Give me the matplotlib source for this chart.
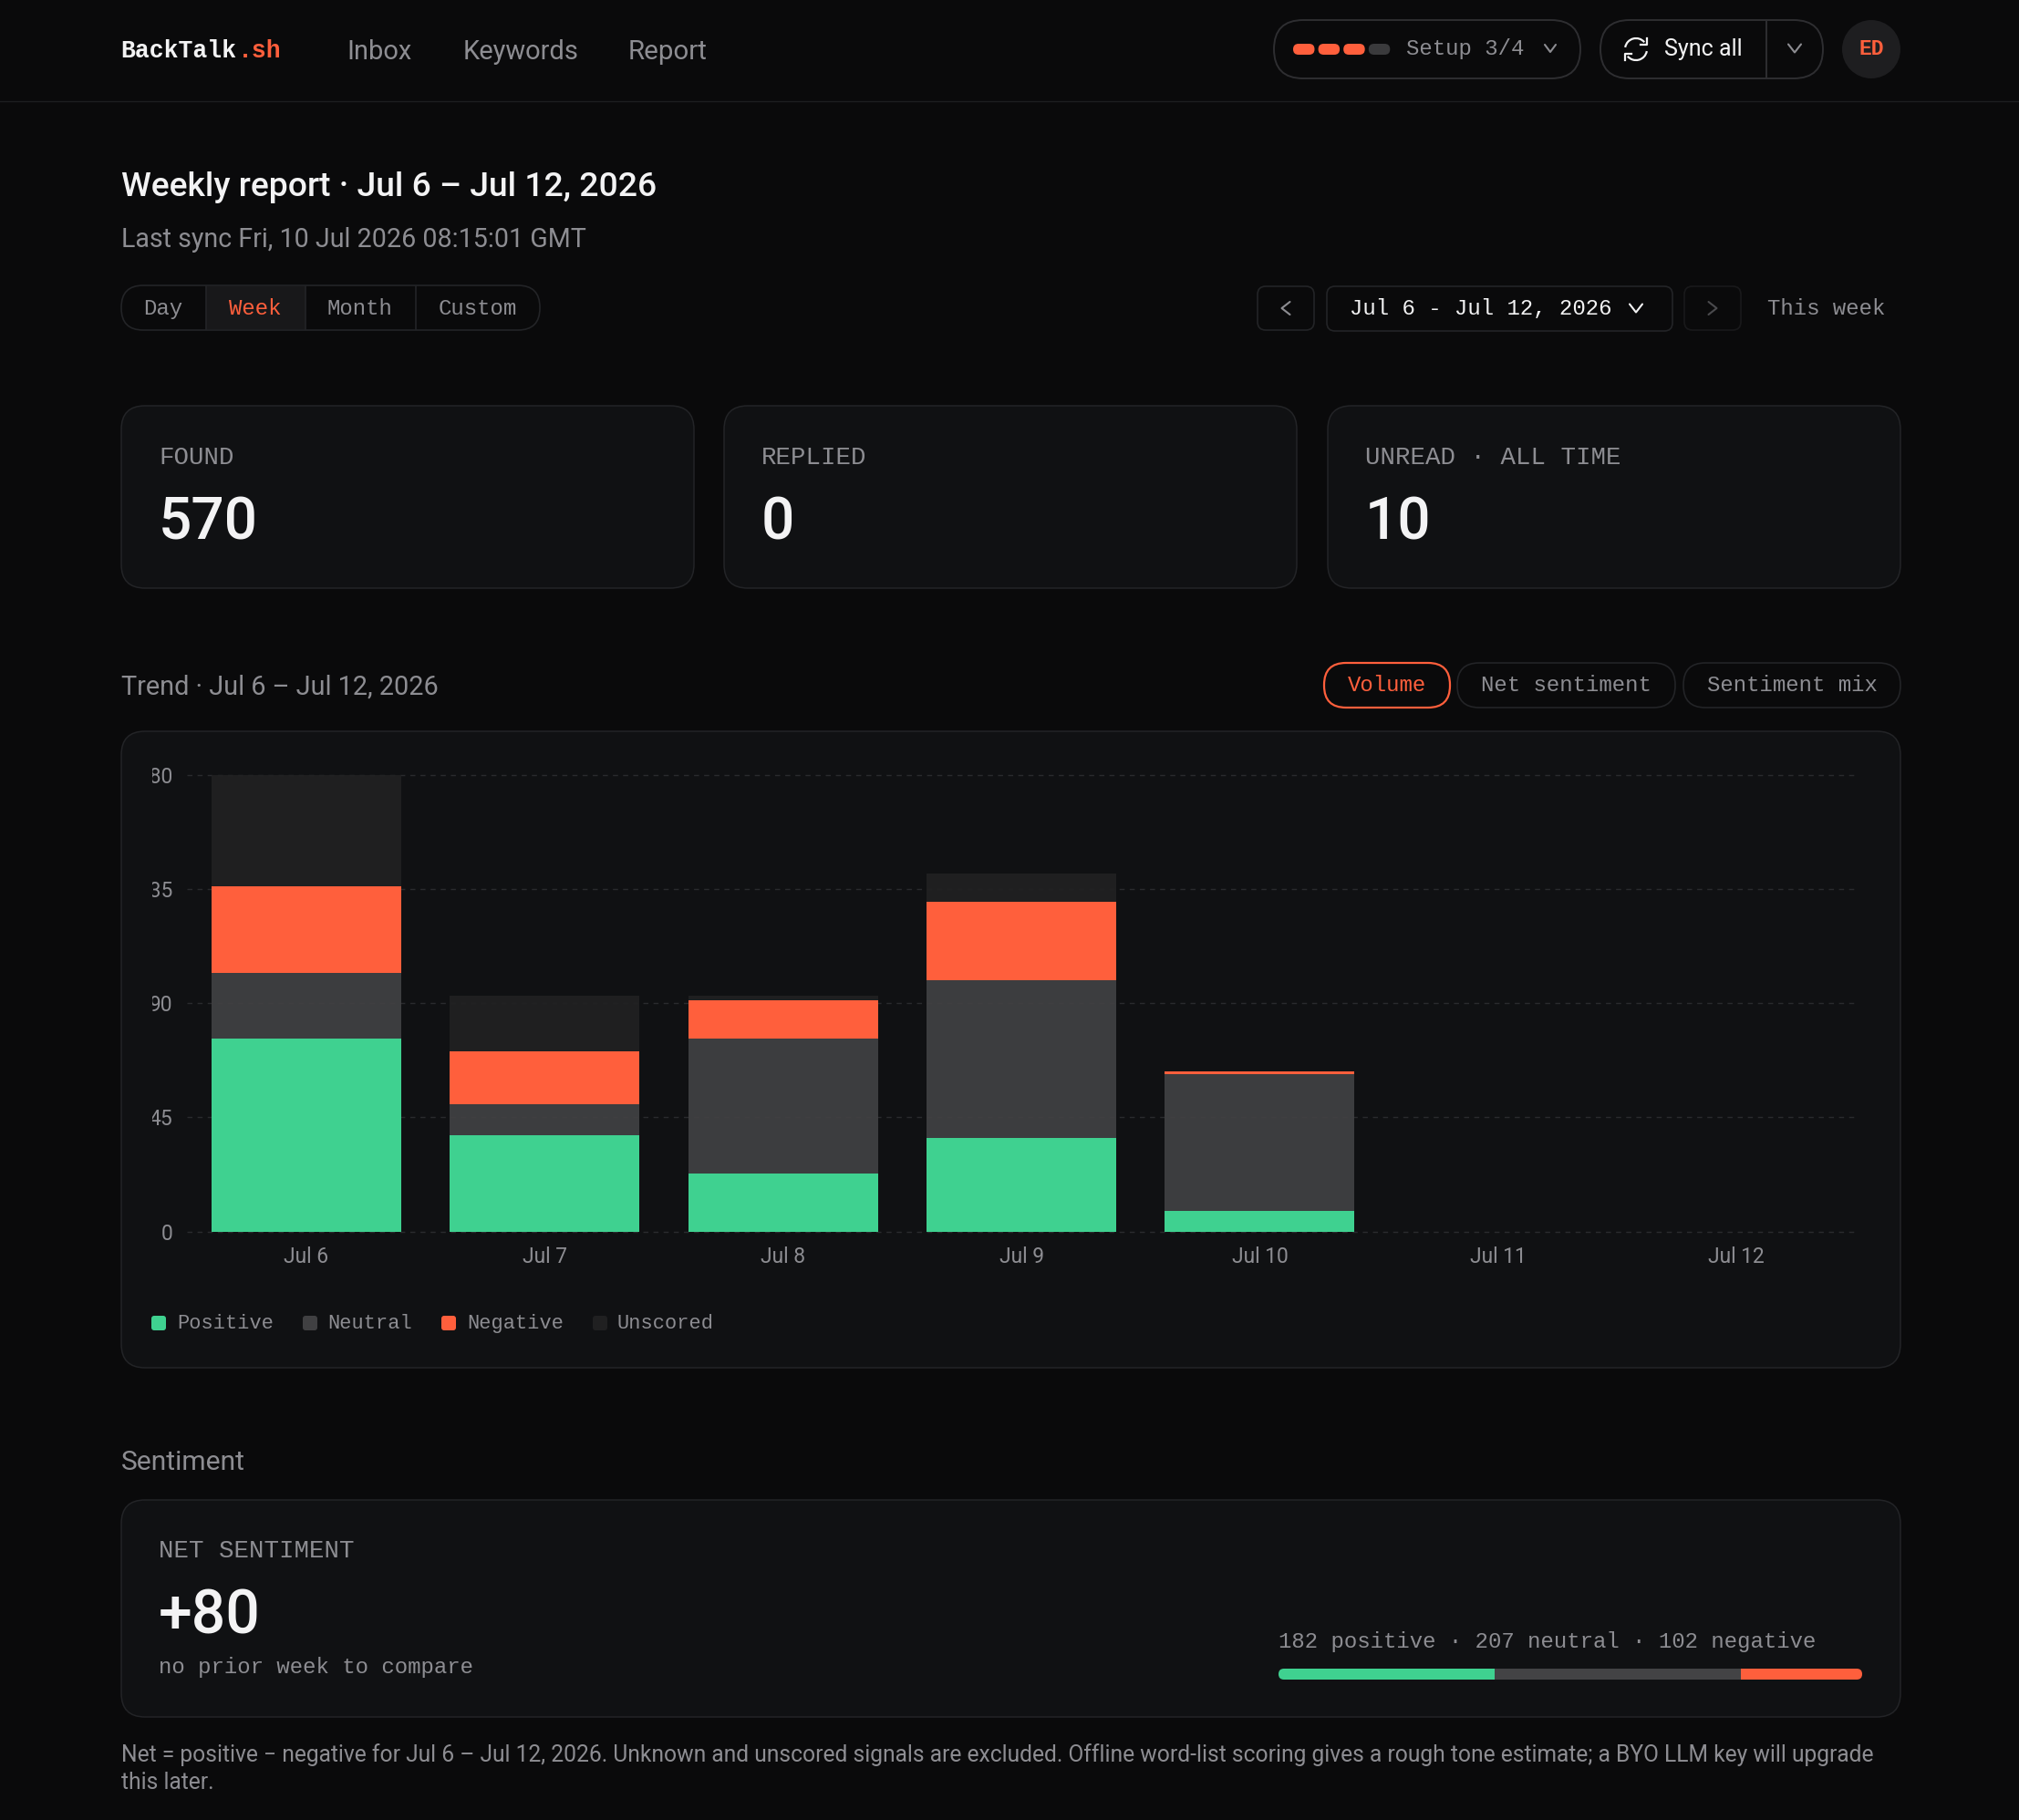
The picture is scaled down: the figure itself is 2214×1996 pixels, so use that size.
import matplotlib
matplotlib.use("Agg")
import matplotlib.pyplot as plt
from matplotlib.patches import FancyBboxPatch, Circle, Arc, Rectangle
from matplotlib.transforms import Bbox

# data
days = ["Jul 6", "Jul 7", "Jul 8", "Jul 9", "Jul 10", "Jul 11", "Jul 12"]
positive = [76, 38, 23, 37, 8, 0, 0]
neutral = [26, 12, 53, 62, 54, 0, 0]
negative = [34, 21, 15, 31, 1, 0, 0]
unscored = [44, 22, 2, 11, 0, 0, 0]
y_ticks = [0, 45, 90, 135, 180]
totals = [182, 207, 102]

W, H = 2214, 1996
SANS = ["Roboto", "DejaVu Sans"]
MONO = ["Liberation Mono", "DejaVu Sans Mono"]

BG = "#0a0a0b"
CARD = "#101113"
BORDER = "#232427"
WHITE = "#f3f3f4"
MUTED = "#8d8d92"
ORANGE = "#ff5f3c"
GREEN = "#3fd190"
GREY = "#404042"
DARK = "#202021"

fig = plt.figure(figsize=(W / 100, H / 100), dpi=100, facecolor=BG)
bg = fig.add_axes([0, 0, 1, 1])
bg.set_xlim(0, W)
bg.set_ylim(H, 0)
bg.axis("off")


def box(x0, y0, x1, y1, r, fc="none", ec=BORDER, lw=1.0, ax=bg, z=1):
    p = FancyBboxPatch((x0 + r, y0 + r), x1 - x0 - 2 * r, y1 - y0 - 2 * r,
                       boxstyle=f"round,pad={r},rounding_size={r}",
                       fc=fc, ec=ec, lw=lw, zorder=z)
    ax.add_patch(p)
    return p


def txt(x, y, s, px, color=MUTED, fam=SANS, ha="left", weight="normal"):
    # va=center sits a little high for these fonts
    dy = 2 if fam is MONO else 2.5
    return bg.text(x, y + dy, s, fontsize=px * 0.72, color=color, family=fam,
                   ha=ha, va="center", weight=weight, zorder=5)


def chevron(x, y, dx, dy, color=MUTED, lw=1.5):
    bg.plot([x - dx, x, x + dx], [y - dy, y + dy, y - dy], color=color, lw=lw,
            solid_capstyle="round", zorder=5)


def side(x, y, dx, dy, color=MUTED, lw=1.5):
    bg.plot([x + dx, x - dx, x + dx], [y - dy, y, y + dy], color=color, lw=lw,
            solid_capstyle="round", zorder=5)


# top bar
bg.plot([0, W], [111, 111], color="#1d1e20", lw=1)
txt(132, 54, "BackTalk", 26.5, WHITE, MONO, weight="bold")
txt(261, 54, ".sh", 26.5, ORANGE, MONO, weight="bold")
txt(380, 54, "Inbox", 29)
txt(508, 54, "Keywords", 29)
txt(689, 54, "Report", 29.5)

box(1397, 22, 1733, 86, 32, ec="#2e2e31", lw=1.4)
for i in range(4):
    box(1418 + i * 27.6, 48, 1441.5 + i * 27.6, 60, 6,
        fc=ORANGE if i < 3 else "#3a3a3c", ec="none", z=3)
txt(1542, 51, "Setup 3/4", 24, MUTED, MONO)
chevron(1700, 53, 6, 4)

box(1755, 22, 1999, 86, 32, ec="#2e2e31", lw=1.4)
bg.plot([1937, 1937], [22, 86], color="#2e2e31", lw=1.4)
bg.add_patch(Arc((1794, 54), 24, 24, theta1=190, theta2=320, color=WHITE, lw=1.6, zorder=5))
bg.add_patch(Arc((1794, 54), 24, 24, theta1=10, theta2=140, color=WHITE, lw=1.6, zorder=5))
bg.plot([1806, 1806, 1799], [42, 49, 49], color=WHITE, lw=1.6, zorder=5)
bg.plot([1782, 1782, 1789], [66, 59, 59], color=WHITE, lw=1.6, zorder=5)
txt(1825, 51.5, "Sync all", 25, WHITE)
chevron(1968, 53, 7, 4.5)

bg.add_patch(Circle((2052, 54), 32, fc="#1e1e20", ec="none"))
txt(2052, 51.5, "ED", 23, ORANGE, MONO, ha="center", weight="bold")

# heading
txt(133, 203, "Weekly report · Jul 6 – Jul 12, 2026", 37.3, WHITE, weight="medium")
txt(133, 260, "Last sync Fri, 10 Jul 2026 08:15:01 GMT", 28.6)

# range tabs
box(133, 313, 592, 362, 24, ec="#232427", lw=1.2)
bg.add_patch(Rectangle((226, 314), 108.5, 47, fc="#18181a", ec="none", zorder=0.5))
for xv in [226, 334.5, 455.5]:
    bg.plot([xv, xv], [314, 361], color="#232427", lw=1.2)
txt(179, 336, "Day", 24, MUTED, MONO, ha="center")
txt(280, 336, "Week", 24, ORANGE, MONO, ha="center")
txt(394, 336, "Month", 24, MUTED, MONO, ha="center")
txt(524, 336, "Custom", 24, MUTED, MONO, ha="center")

box(1379, 314, 1441, 362, 9, ec="#232427", lw=1.2)
side(1410, 338, 4.5, 7)
box(1455, 314, 1834, 363, 9, ec="#232427", lw=1.2)
txt(1480, 336.5, "Jul 6 - Jul 12, 2026", 24, WHITE, MONO)
chevron(1794, 338, 7, 4.5, WHITE)
box(1847, 314, 1909, 362, 9, ec="#19191b", lw=1.2)
side(1878, 338, -4.5, 7, "#4a4a4d")
txt(1938, 336, "This week", 24, MUTED, MONO)

# stat cards
cards = [(133, 761, "FOUND", "570"), (794, 1422, "REPLIED", "0"),
         (1456, 2084, "UNREAD · ALL TIME", "10")]
for x0, x1, label, val in cards:
    box(x0, 445, x1, 645, 26, fc=CARD, ec=BORDER, lw=1.1)
    txt(x0 + 41, 500, label, 27.5, MUTED, MONO)
    txt(x0 + 41, 571, val, 64, WHITE, weight="medium")

# trend header
txt(133, 751, "Trend · Jul 6 – Jul 12, 2026", 28.9)
box(1452, 727, 1590, 776, 24, ec=ORANGE, lw=1.6)
txt(1521, 749.5, "Volume", 24, ORANGE, MONO, ha="center")
box(1598, 727, 1837, 776, 24, ec="#232427", lw=1.2)
txt(1717.5, 749.5, "Net sentiment", 24, MUTED, MONO, ha="center")
box(1846, 727, 2084, 776, 24, ec="#232427", lw=1.2)
txt(1965, 749.5, "Sentiment mix", 24, MUTED, MONO, ha="center")

box(133, 802, 2084, 1500, 26, fc=CARD, ec=BORDER, lw=1.1)

# the bars
px_l, px_r, px_t, px_b = 205, 2035, 850, 1350.5
ax = fig.add_axes([px_l / W, 1 - px_b / H, (px_r - px_l) / W, (px_b - px_t) / H], zorder=2)
ax.patch.set_alpha(0)
x = list(range(len(days)))
bottom = [0] * len(days)
for vals, col, al in [(positive, GREEN, 1), (neutral, "#414143", 0.92),
                      (negative, ORANGE, 1), (unscored, "#212122", 0.92)]:
    ax.bar(x, vals, width=0.796, bottom=bottom, color=col, alpha=al, lw=0, zorder=3)
    bottom = [a + b for a, b in zip(bottom, vals)]
ax.set_xlim(-0.5, 6.5)
ax.set_ylim(0, 180)
ax.set_yticks(y_ticks)
ax.set_xticks(x)
ax.set_xticklabels(days)
ax.grid(axis="y", color="#2a2b2e", lw=1, linestyle=(0, (4, 4)), zorder=1)
for g in ax.get_ygridlines():
    g.set_clip_on(False)
ax.set_axisbelow(True)
for s in ax.spines.values():
    s.set_visible(False)
ax.tick_params(axis="both", length=0)
ax.tick_params(axis="y", pad=11.5, labelsize=16.4, labelcolor=MUTED)
ax.tick_params(axis="x", pad=11.8, labelsize=16.4, labelcolor=MUTED)
for lab in ax.get_xticklabels() + ax.get_yticklabels():
    lab.set_family(SANS)
# the y labels are cut off on the left in the source
for lab in ax.get_yticklabels():
    lab.set_clip_on(True)
    lab.set_clip_box(Bbox([[166.5, 0], [300, H]]))

# legend
for sx, tx, name, col in [(166, 194, "Positive", GREEN), (332, 359, "Neutral", GREY),
                          (484, 512, "Negative", ORANGE), (650, 677, "Unscored", DARK)]:
    box(sx, 1443, sx + 16, 1459, 3, fc=col, ec="none", z=3)
    txt(tx, 1449.5, name, 22, MUTED, MONO)

# sentiment card
txt(133, 1601, "Sentiment", 30)
box(133, 1645, 2084, 1883, 26, fc=CARD, ec=BORDER, lw=1.1)
txt(174, 1699, "NET SENTIMENT", 27.5, MUTED, MONO)
txt(174, 1771, "+80", 66, WHITE, weight="medium")
txt(174, 1826.5, "no prior week to compare", 24, MUTED, MONO)
txt(1402, 1798.5, f"{totals[0]} positive · {totals[1]} neutral · {totals[2]} negative", 24, MUTED, MONO)

# stacked mix bar with rounded ends
bar_ax = fig.add_axes([1402 / W, 1 - 1842 / H, 640 / W, 12 / H], zorder=2)
end = box(1402, 1830, 2042, 1842, 6, ec="none")
left = 0
for v, c in zip(totals, [GREEN, "#434345", ORANGE]):
    for r in bar_ax.barh(0.5, v, left=left, height=1, color=c, lw=0):
        r.set_clip_path(end)
    left += v
bar_ax.set_xlim(0, sum(totals))
bar_ax.set_ylim(0, 1)
bar_ax.axis("off")

txt(133, 1922, "Net = positive − negative for Jul 6 – Jul 12, 2026. Unknown and unscored signals are excluded. "
    "Offline word-list scoring gives a rough tone estimate; a BYO LLM key will upgrade", 24.65)
txt(133, 1952, "this later.", 24.65)

fig.savefig("out.png", dpi=100, facecolor=BG)
